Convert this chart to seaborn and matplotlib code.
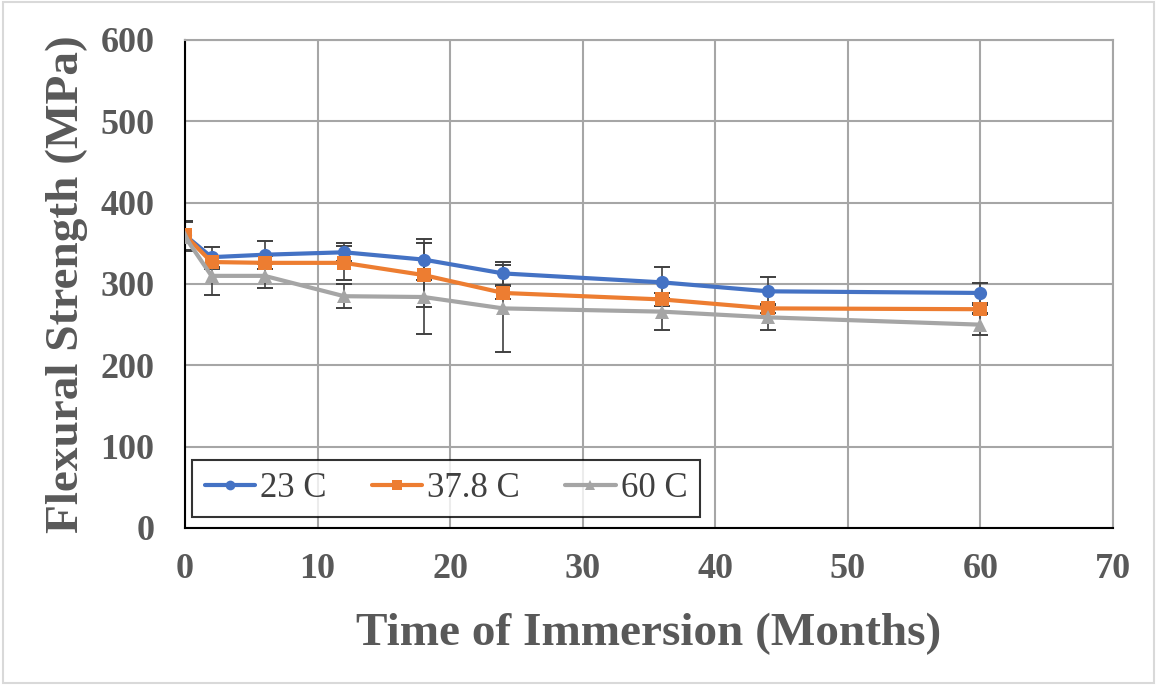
import numpy as np
import pandas as pd
import matplotlib
matplotlib.use("Agg")
import matplotlib.pyplot as plt
import seaborn as sns
from matplotlib.patches import Rectangle

months = [0, 2, 6, 12, 18, 24, 36, 44, 60]
series_names = ["23 C", "37.8 C", "60 C"]
s23 = [360, 333, 336, 339, 330, 313, 302, 291, 289]
s378 = [360, 327, 326, 326, 311, 289, 281, 270, 269]
s60 = [358, 310, 310, 285, 284, 270, 266, 259, 250]
e23 = [18, 12, 17, 11, 25, 14, 19, 17, 12]
e378 = [18, 8, 8, 21, 39, 8, 8, 6, 5]
e60 = [18, 24, 15, 15, 45, 53, 23, 15, 13]

colors = ["#4472C4", "#ED7D31", "#A5A5A5"]
markers = ["o", "s", "^"]

df = pd.DataFrame({
    "Months": months * 3,
    "Strength": s23 + s378 + s60,
    "Err": e23 + e378 + e60,
    "Series": sum([[n] * len(months) for n in series_names], []),
})

sns.set_theme(style="white")
plt.rcParams["font.family"] = ["Liberation Serif", "DejaVu Serif"]

fig = plt.figure(figsize=(11.57, 6.85), dpi=100)
ax = fig.add_axes([185 / 1157, (685 - 528) / 685, (1113 - 185) / 1157, (528 - 40) / 685])

# error bars (drawn first, under lines)
for name in series_names:
    sub = df[df["Series"] == name]
    ax.errorbar(sub["Months"], sub["Strength"], yerr=sub["Err"], fmt="none",
                ecolor="#404040", elinewidth=1.2, capsize=6, capthick=1.4, zorder=2)

sns.lineplot(data=df, x="Months", y="Strength", hue="Series", style="Series",
             palette=colors, markers=markers, dashes=False, markersize=9.5,
             markeredgewidth=0, linewidth=3, ax=ax, zorder=3, legend=True)

ax.set_xlim(0, 70)
ax.set_ylim(0, 600)
ax.set_xticks(range(0, 71, 10))
ax.set_yticks(range(0, 601, 100))
ax.grid(True, color="#A6A6A6", linewidth=1.5)
ax.set_axisbelow(True)
for side in ["top", "right"]:
    ax.spines[side].set_color("#A6A6A6")
    ax.spines[side].set_linewidth(1.5)
for side in ["left", "bottom"]:
    ax.spines[side].set_color("#000000")
    ax.spines[side].set_linewidth(1.5)

ax.tick_params(axis="x", labelsize=26, colors="#595959", length=0, pad=18)
ax.tick_params(axis="y", labelsize=26, colors="#595959", length=0, pad=22)
for lab in ax.get_xticklabels() + ax.get_yticklabels():
    lab.set_fontweight("bold")
    lab.set_color("#595959")

ax.set_xlabel("Time of Immersion (Months)", fontsize=34, fontweight="bold",
              color="#595959", labelpad=19)
ax.set_ylabel("Flexural Strength (MPa)", fontsize=34, fontweight="bold",
              color="#595959", labelpad=9)

handles, labels = ax.get_legend_handles_labels()
for h in handles:
    h.set_markersize(7)
leg = ax.legend(handles, labels, loc="lower left", ncol=3, fontsize=25,
                frameon=True, fancybox=False, edgecolor="black",
                bbox_to_anchor=(0.008, 0.022), handlelength=1.45,
                handletextpad=0.15, columnspacing=1.3, borderpad=0.35,
                borderaxespad=0)
leg.get_frame().set_linewidth(1.5)
for t in leg.get_texts():
    t.set_color("#404040")

fig.patches.append(Rectangle((0.003, 0.003), 0.994, 0.994, transform=fig.transFigure,
                             fill=False, edgecolor="#D9D9D9", linewidth=1.5))

fig.savefig("out.png", dpi=100)
